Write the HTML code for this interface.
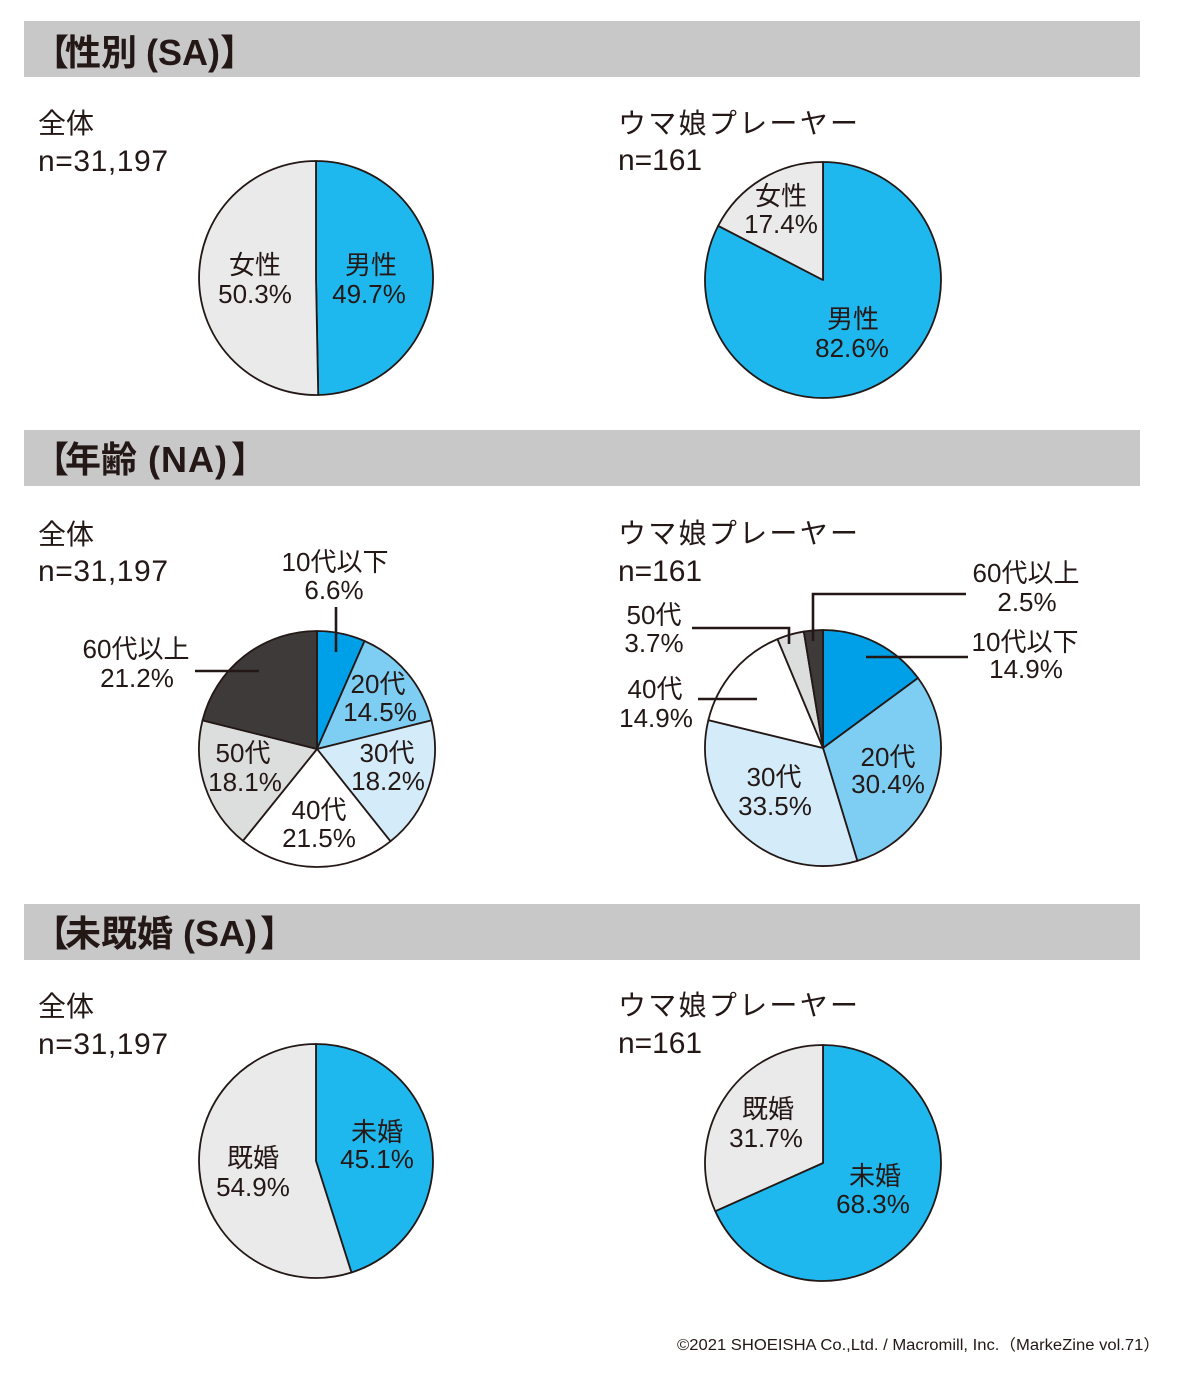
<!DOCTYPE html>
<html><head><meta charset="utf-8"><style>
html,body{margin:0;padding:0;background:#fff;}
svg{display:block;}
text{fill:#231815;font-family:"Liberation Sans","Noto Sans CJK JP",sans-serif;}
.t{font-size:36px;font-weight:bold;}
.h{font-size:28px;}
.n{font-size:30px;}
.l{font-size:26px;text-anchor:middle;}
.ln{stroke:#231815;stroke-width:2.6;fill:none;}
.pie path{stroke:#231815;stroke-width:1.8;stroke-linejoin:round;}
</style></head><body>
<svg width="1200" height="1379" viewBox="0 0 1200 1379" xmlns="http://www.w3.org/2000/svg">
<rect width="1200" height="1379" fill="#fff"/>
<!-- headers -->
<rect x="24" y="21" width="1116" height="56" fill="#c8c8c8"/>
<rect x="24" y="430" width="1116" height="56" fill="#c8c8c8"/>
<rect x="24" y="904" width="1116" height="56" fill="#c8c8c8"/>

<text class="t" x="33" y="65">【</text>
<text class="t" x="65" y="65">性別</text>
<text class="t" x="146" y="65">(SA)</text>
<text class="t" x="220" y="65">】</text>

<text class="t" x="33" y="472">【</text>
<text class="t" x="65" y="472">年齢</text>
<text class="t" x="148" y="472" textLength="79">(NA)</text>
<text class="t" x="231" y="472">】</text>

<text class="t" x="33" y="946">【</text>
<text class="t" x="65" y="946">未既婚</text>
<text class="t" x="183" y="946">(SA)</text>
<text class="t" x="260" y="946">】</text>

<!-- sub labels -->
<text class="h" x="38" y="133">全体</text>
<text class="n" x="38" y="171" textLength="130">n=31,197</text>
<text class="h" x="618" y="133" textLength="240">ウマ娘プレーヤー</text>
<text class="n" x="618" y="170" textLength="84">n=161</text>

<text class="h" x="38" y="544">全体</text>
<text class="n" x="38" y="581" textLength="130">n=31,197</text>
<text class="h" x="618" y="543" textLength="240">ウマ娘プレーヤー</text>
<text class="n" x="618" y="581" textLength="84">n=161</text>

<text class="h" x="38" y="1016">全体</text>
<text class="n" x="38" y="1054" textLength="130">n=31,197</text>
<text class="h" x="618" y="1015" textLength="240">ウマ娘プレーヤー</text>
<text class="n" x="618" y="1053" textLength="84">n=161</text>

<g class="pie">
<!-- Pie A gender all -->
<path d="M316,278 L316,161 A117,117 0 0 1 318.21,394.98 Z" fill="#1eb8ee"/>
<path d="M316,278 L318.21,394.98 A117,117 0 1 1 316,161 Z" fill="#eaeaea"/>
<!-- Pie B gender uma -->
<path d="M823,280 L823,162 A118,118 0 1 1 718.19,225.77 Z" fill="#1eb8ee"/>
<path d="M823,280 L718.19,225.77 A118,118 0 0 1 823,162 Z" fill="#eaeaea"/>
<!-- Pie C age all -->
<path d="M317,749 L317,631 A118,118 0 0 1 364.54,641 Z" fill="#00a0e9"/>
<path d="M317,749 L364.54,641 A118,118 0 0 1 431.48,720.37 Z" fill="#7ecef4"/>
<path d="M317,749 L431.48,720.37 A118,118 0 0 1 390.49,841.32 Z" fill="#d4ecfa"/>
<path d="M317,749 L390.49,841.32 A118,118 0 0 1 242.93,840.86 Z" fill="#ffffff"/>
<path d="M317,749 L242.93,840.86 A118,118 0 0 1 202.52,720.37 Z" fill="#dcdddd"/>
<path d="M317,749 L202.52,720.37 A118,118 0 0 1 317,631 Z" fill="#3e3a39"/>
<!-- Pie D age uma -->
<path d="M823,748 L823,630 A118,118 0 0 1 917.98,677.98 Z" fill="#00a0e9"/>
<path d="M823,748 L917.98,677.98 A118,118 0 0 1 857.34,860.89 Z" fill="#7ecef4"/>
<path d="M823,748 L857.34,860.89 A118,118 0 0 1 708.35,720.1 Z" fill="#d4ecfa"/>
<path d="M823,748 L708.35,720.1 A118,118 0 0 1 777.5,639.12 Z" fill="#ffffff"/>
<path d="M823,748 L777.5,639.12 A118,118 0 0 1 803.81,631.57 Z" fill="#dcdddd"/>
<path d="M823,748 L803.81,631.57 A118,118 0 0 1 823,630 Z" fill="#3e3a39"/>
<!-- Pie E marriage all -->
<path d="M316,1161 L316,1044 A117,117 0 0 1 351.46,1272.5 Z" fill="#1eb8ee"/>
<path d="M316,1161 L351.46,1272.5 A117,117 0 1 1 316,1044 Z" fill="#eaeaea"/>
<!-- Pie F marriage uma -->
<path d="M823,1163 L823,1045 A118,118 0 1 1 715.3,1211.21 Z" fill="#1eb8ee"/>
<path d="M823,1163 L715.3,1211.21 A118,118 0 0 1 823,1045 Z" fill="#eaeaea"/>
</g>

<!-- leader lines -->
<line class="ln" x1="336" y1="607" x2="336" y2="652"/>
<line class="ln" x1="195" y1="671" x2="259" y2="671"/>
<polyline class="ln" points="813,641 813,594 966,594"/>
<line class="ln" x1="866" y1="657" x2="968" y2="657"/>
<polyline class="ln" points="692,628 789,628 789,644"/>
<line class="ln" x1="698" y1="699" x2="757" y2="699"/>

<!-- pie labels -->
<text class="l" x="255" y="274">女性</text>
<text class="l" x="255" y="303">50.3%</text>
<text class="l" x="371" y="274">男性</text>
<text class="l" x="369" y="303">49.7%</text>

<text class="l" x="781" y="205">女性</text>
<text class="l" x="781" y="233">17.4%</text>
<text class="l" x="853" y="328">男性</text>
<text class="l" x="852" y="357">82.6%</text>

<text class="l" x="335" y="571">10代以下</text>
<text class="l" x="334" y="599">6.6%</text>
<text class="l" x="136" y="658">60代以上</text>
<text class="l" x="137" y="687">21.2%</text>
<text class="l" x="378" y="693">20代</text>
<text class="l" x="380" y="721">14.5%</text>
<text class="l" x="387" y="762">30代</text>
<text class="l" x="388" y="790">18.2%</text>
<text class="l" x="319" y="819">40代</text>
<text class="l" x="319" y="847">21.5%</text>
<text class="l" x="243" y="762">50代</text>
<text class="l" x="245" y="791">18.1%</text>

<text class="l" x="1026" y="582">60代以上</text>
<text class="l" x="1027" y="611">2.5%</text>
<text class="l" x="1025" y="651">10代以下</text>
<text class="l" x="1026" y="678">14.9%</text>
<text class="l" x="654" y="624">50代</text>
<text class="l" x="654" y="652">3.7%</text>
<text class="l" x="655" y="698">40代</text>
<text class="l" x="656" y="727">14.9%</text>
<text class="l" x="888" y="766">20代</text>
<text class="l" x="888" y="793">30.4%</text>
<text class="l" x="774" y="786">30代</text>
<text class="l" x="775" y="815">33.5%</text>

<text class="l" x="377" y="1141">未婚</text>
<text class="l" x="377" y="1168">45.1%</text>
<text class="l" x="253" y="1167">既婚</text>
<text class="l" x="253" y="1196">54.9%</text>

<text class="l" x="768" y="1118">既婚</text>
<text class="l" x="766" y="1147">31.7%</text>
<text class="l" x="875" y="1185">未婚</text>
<text class="l" x="873" y="1213">68.3%</text>

<!-- footer -->
<text x="677" y="1350" font-size="15.5" textLength="483" lengthAdjust="spacingAndGlyphs">©2021 SHOEISHA Co.,Ltd. / Macromill, Inc.（MarkeZine vol.71）</text>
</svg>
</body></html>
